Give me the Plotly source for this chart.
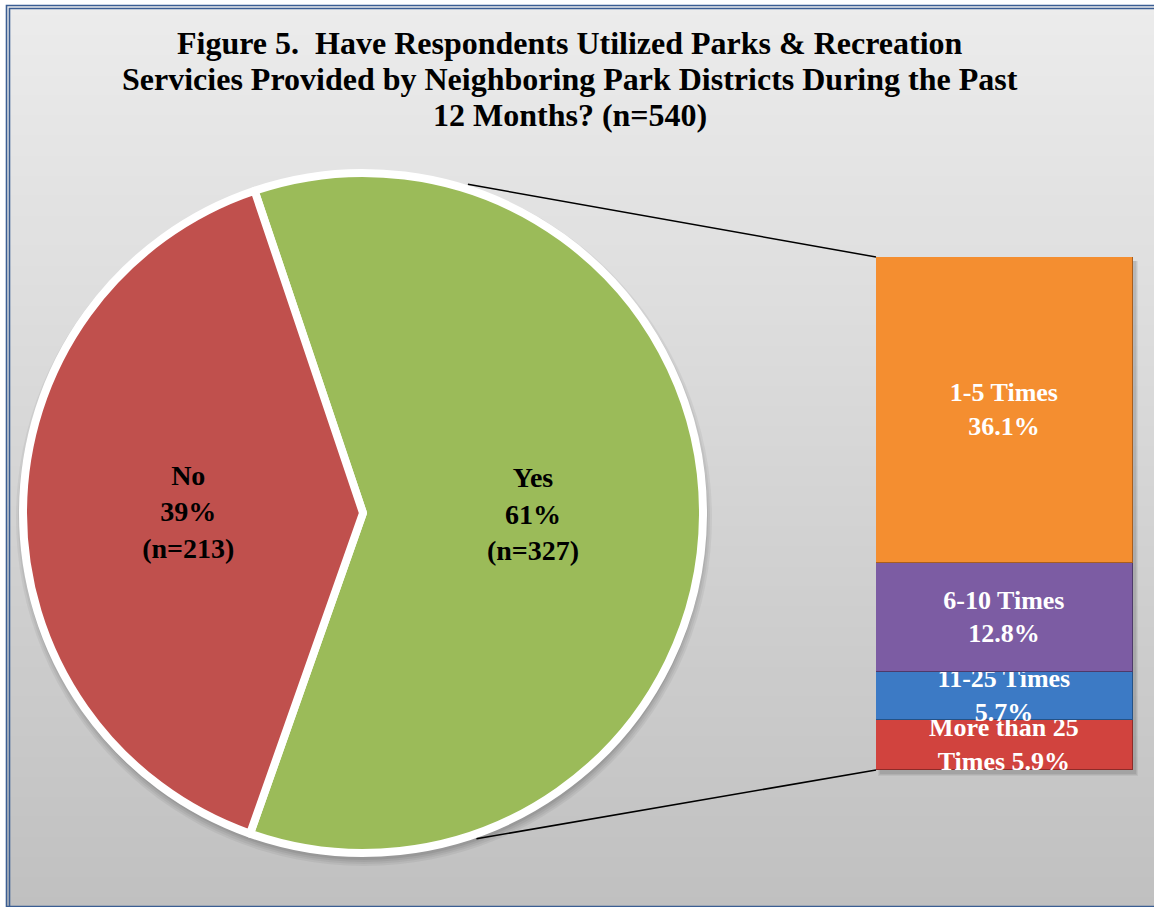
import math
import textwrap
import plotly.graph_objects as go

# ---- data -------------------------------------------------------------
answers = ["Yes", "No"]
answer_counts = [327, 213]

# breakdown of the "Yes" group, listed bottom-to-top as stacked
freq_labels = ["More than 25 Times", "11-25 Times", "6-10 Times", "1-5 Times"]
freq_pct = [5.9, 5.7, 12.8, 36.1]

n_total = sum(answer_counts)
title_lines = [
    "Figure 5.  Have Respondents Utilized Parks & Recreation",
    "Servicies Provided by Neighboring Park Districts During the Past",
    f"12 Months? (n={n_total})",
]

# ---- styling ----------------------------------------------------------
W, H = 1154, 907
SERIF = "Times New Roman, Liberation Serif, serif"
pie_colors = ["#9BBB59", "#C0504D"]
bar_colors = ["#D1433E", "#3C7AC5", "#7C5CA3", "#F48E30"]
bar_edges = ["#8E2B28", "#245287", "#4E3A6B", "#A85E1E"]

# geometry in pixels (origin top-left)
pie_cx, pie_cy, pie_r = 363, 513, 340
bar_left, bar_right, bar_top, bar_bottom = 876, 1133, 257, 770
title_cx, title_y0, title_step = 570, 43, 36


def px(x):
    return x / W


def py(y):
    return (H - y) / H


fig = go.Figure()

fig.add_trace(go.Pie(
    labels=answers,
    values=answer_counts,
    sort=False,
    direction="clockwise",
    rotation=-18.6,
    marker=dict(colors=pie_colors, line=dict(color="white", width=8)),
    texttemplate="%{label}<br>%{percent:.0%}<br>(n=%{value})",
    textposition="inside",
    insidetextorientation="horizontal",
    textfont=dict(family=SERIF, size=28, color="black", weight="bold"),
    domain=dict(x=[px(pie_cx - pie_r), px(pie_cx + pie_r)],
                y=[py(pie_cy + pie_r), py(pie_cy - pie_r)]),
    showlegend=False,
    hoverinfo="label+percent+value",
))

for lab, val, col, edge in zip(freq_labels, freq_pct, bar_colors, bar_edges):
    wrapped = "<br>".join(textwrap.wrap(f"{lab} {val}%", 12))
    fig.add_trace(go.Bar(
        x=["Yes"], y=[val], name=lab,
        marker=dict(color=col, line=dict(color=edge, width=1.2)),
        text=[wrapped], texttemplate="%{text}",
        textposition="inside", insidetextanchor="middle",
        textangle=0, constraintext="none",
        textfont=dict(family=SERIF, size=26, color="white", weight="bold"),
        showlegend=False,
        xaxis="x", yaxis="y",
    ))

shapes = []

# vertical grey gradient behind the chart area
bands = 90
top_px, bot_px = 5, H
for i in range(bands):
    y0 = top_px + (bot_px - top_px) * i / bands
    y1 = top_px + (bot_px - top_px) * (i + 1) / bands + 1
    g = round(236 - (236 - 192) * (i + 0.5) / bands)
    shapes.append(dict(type="rect", xref="paper", yref="paper",
                       x0=px(6), x1=1.01, y0=py(y1), y1=py(y0),
                       fillcolor=f"rgb({g},{g},{g})", line=dict(width=0),
                       layer="below"))

# soft drop shadow under the pie
for k, a in enumerate([0.05, 0.05, 0.06, 0.07]):
    r = pie_r + 8 - 2 * k
    cx, cy = pie_cx + 1, pie_cy + 5
    shapes.append(dict(type="circle", xref="paper", yref="paper",
                       x0=px(cx - r), x1=px(cx + r), y0=py(cy + r), y1=py(cy - r),
                       fillcolor=f"rgba(0,0,0,{a})", line=dict(width=0),
                       layer="below"))

# soft shadow under the stacked bar
for k, a in enumerate([0.05, 0.06, 0.07]):
    d = 5 - k
    shapes.append(dict(type="rect", xref="paper", yref="paper",
                       x0=px(bar_left + 2 + k), x1=px(bar_right + d),
                       y0=py(bar_bottom + d + 1), y1=py(bar_top + 4),
                       fillcolor=f"rgba(0,0,0,{a})", line=dict(width=0),
                       layer="below"))

# connector lines from the pie rim to the bar corners
rim = pie_r + 5
for ang, bar_y in [(17.7, bar_top), (160.8, bar_bottom)]:
    t = math.radians(ang)
    sx = pie_cx + rim * math.sin(t)
    sy = pie_cy - rim * math.cos(t)
    shapes.append(dict(type="line", xref="paper", yref="paper",
                       x0=px(sx), y0=py(sy), x1=px(bar_left), y1=py(bar_y),
                       line=dict(color="black", width=1.5)))

# double blue frame
for off in (6.5, 9.5):
    shapes.append(dict(type="rect", xref="paper", yref="paper",
                       x0=px(off), x1=1.02, y0=py(H - 0.5 + (off - 6.5)), y1=py(off - 1),
                       line=dict(color="#3B5E93", width=1.6),
                       fillcolor="rgba(0,0,0,0)"))

# title, one annotation per line for tight line spacing
annotations = []
for i, line in enumerate(title_lines):
    annotations.append(dict(
        text=line, xref="paper", yref="paper",
        x=px(title_cx), y=py(title_y0 + i * title_step),
        xanchor="center", yanchor="middle", showarrow=False,
        font=dict(family=SERIF, size=32, color="black", weight="bold"),
    ))

fig.update_layout(
    width=W, height=H,
    margin=dict(l=0, r=0, t=0, b=0),
    paper_bgcolor="white",
    plot_bgcolor="rgba(0,0,0,0)",
    barmode="stack",
    bargap=0,
    xaxis=dict(domain=[px(bar_left), px(bar_right)], range=[-0.5, 0.5],
               visible=False, fixedrange=True),
    yaxis=dict(domain=[py(bar_bottom), py(bar_top)], range=[0, sum(freq_pct)],
               visible=False, fixedrange=True),
    shapes=shapes,
    annotations=annotations,
)

fig.write_html("out.html")
